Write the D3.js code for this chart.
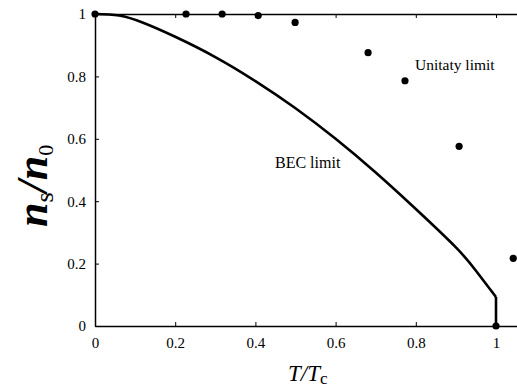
<!DOCTYPE html>
<html>
<head>
<meta charset="utf-8">
<script src="https://cdn.jsdelivr.net/npm/d3@7"></script>
<style>
  html, body { margin: 0; padding: 0; background: #fff; }
  svg { display: block; }
  svg text { font-family: "Liberation Serif", "Times New Roman", "DejaVu Serif", serif; fill: #000; }
</style>
</head>
<body>
<svg id="chart" width="517" height="389"></svg>
<script>
// Measured superfluid fraction (unitary limit)
const unitaryT  = [0, 0.227, 0.317, 0.407, 0.499, 0.681, 0.773, 0.908, 1.0, 1.043];
const unitaryNs = [1.0, 1.0, 1.0, 0.995, 0.973, 0.876, 0.786, 0.576, 0.0, 0.217];

// BEC limit curve
const becT  = [0, 0.06, 0.12, 0.2, 0.3, 0.4, 0.5, 0.6, 0.7, 0.8, 0.9, 0.95, 1.0];
const becNs = [1.0, 0.995, 0.972, 0.927, 0.862, 0.785, 0.698, 0.600, 0.492, 0.375, 0.252, 0.177, 0.093];
// drop to zero at T = Tc
const dropT  = [1.0, 1.0];
const dropNs = [0.093, 0.0];

const xTicks = [0, 0.2, 0.4, 0.6, 0.8, 1];
const yTicks = [0, 0.2, 0.4, 0.6, 0.8, 1];
const xTickLabels = ["0", "0.2", "0.4", "0.6", "0.8", "1"];
const yTickLabels = ["0", "0.2", "0.4", "0.6", "0.8", "1"];

const svg = d3.select("#chart");
const mLeft = 95, mRight = 517, mTop = 14, mBottom = 326;

const x = d3.scaleLinear().domain([0, 1]).range([mLeft, 496]);
const xEnd = x.invert(mRight);
const xAxisScale = d3.scaleLinear().domain([0, xEnd]).range([mLeft, mRight]);
const y = d3.scaleLinear().domain([0, 1]).range([mBottom, mTop]);

// bottom axis (ticks point inward)
const gx = svg.append("g").attr("transform", `translate(0,${mBottom})`)
  .call(d3.axisBottom(xAxisScale).tickValues(xTicks)
    .tickFormat((d, i) => xTickLabels[i]).tickSizeInner(-4).tickSizeOuter(0).tickPadding(8));
gx.attr("font-family", null);
gx.select(".domain").attr("stroke-width", 1.5);
gx.selectAll(".tick line").attr("stroke-width", 1);
gx.selectAll(".tick text").attr("font-size", 15).attr("dy", "0.9em");

// top frame line with downward ticks
const gt = svg.append("g").attr("transform", `translate(0,${mTop})`)
  .call(d3.axisTop(xAxisScale).tickValues(xTicks).tickFormat("").tickSizeInner(-4).tickSizeOuter(0));
gt.select(".domain").attr("stroke-width", 1.5);
gt.selectAll(".tick line").attr("stroke-width", 1);

// left axis (ticks point inward)
const gy = svg.append("g").attr("transform", `translate(${mLeft},0)`)
  .call(d3.axisLeft(y).tickValues(yTicks)
    .tickFormat((d, i) => yTickLabels[i]).tickSizeInner(-4).tickSizeOuter(0).tickPadding(9));
gy.attr("font-family", null);
gy.select(".domain").attr("stroke-width", 1.5);
gy.selectAll(".tick line").attr("stroke-width", 1);
gy.selectAll(".tick text").attr("font-size", 15);

// BEC limit curve
const line = d3.line().x(d => x(d[0])).y(d => y(d[1]));
svg.append("path")
  .datum(becT.map((t, i) => [t, becNs[i]]))
  .attr("fill", "none").attr("stroke", "#000").attr("stroke-width", 2.6)
  .attr("stroke-linejoin", "round")
  .attr("d", line.curve(d3.curveNatural));
svg.append("path")
  .datum(dropT.map((t, i) => [t, dropNs[i]]))
  .attr("fill", "none").attr("stroke", "#000").attr("stroke-width", 2.6)
  .attr("d", d3.line().x(d => x(d[0])).y(d => y(d[1])));

// data points
svg.append("g").selectAll("circle")
  .data(unitaryT.map((t, i) => [t, unitaryNs[i]]))
  .join("circle")
  .attr("cx", d => x(d[0])).attr("cy", d => y(d[1]))
  .attr("r", 3.6).attr("fill", "#000");

// annotations
svg.append("text").attr("x", 415).attr("y", 70).attr("font-size", 15.5).text("Unitaty limit");
svg.append("text").attr("x", 275).attr("y", 168).attr("font-size", 16).text("BEC limit");

// x-axis title
const xt = svg.append("text").attr("x", 288).attr("y", 381).attr("font-size", 23);
xt.append("tspan").attr("font-style", "italic").text("T/T");
xt.append("tspan").attr("font-size", 17).attr("dy", 3).text("c");

// y-axis title
const yt = svg.append("text")
  .attr("transform", "translate(47,227) rotate(-90)")
  .attr("font-size", 44).attr("font-weight", "bold").attr("font-style", "italic");
yt.append("tspan").text("n");
yt.append("tspan").attr("font-size", 26).attr("font-weight", "normal").attr("font-style", "normal").attr("dy", 6).text("s");
yt.append("tspan").attr("dy", -6).text("/n");
yt.append("tspan").attr("font-size", 22).attr("font-weight", "normal").attr("font-style", "normal").attr("dy", 6).text("0");
</script>
</body>
</html>
